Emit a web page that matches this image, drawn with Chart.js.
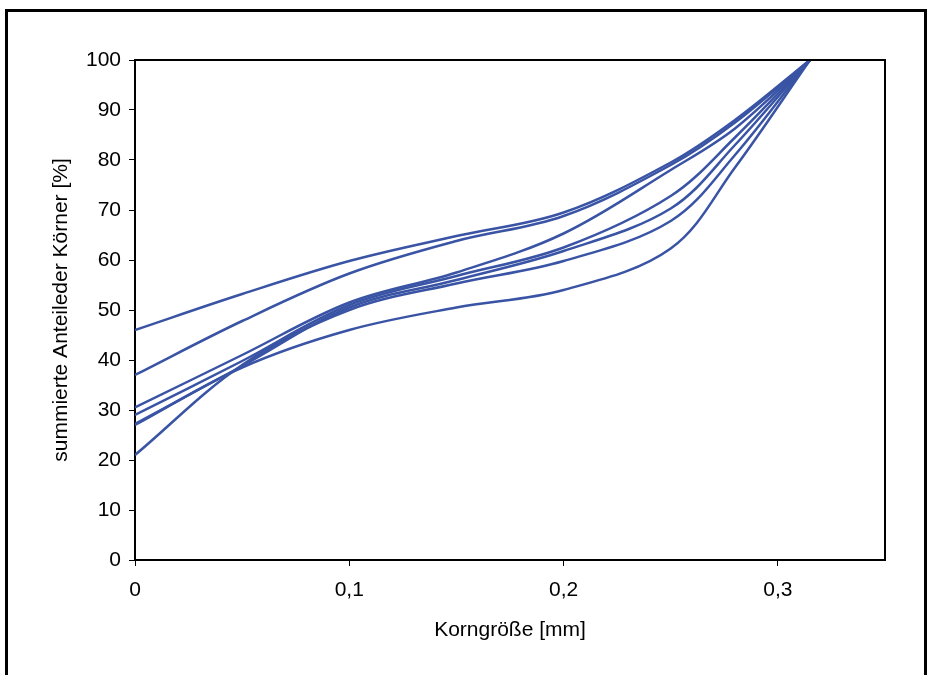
<!DOCTYPE html>
<html>
<head>
<meta charset="utf-8">
<script src="https://cdn.jsdelivr.net/npm/chart.js@4"></script>
<style>
  html, body { margin: 0; padding: 0; background: #fff; }
  #wrap { width: 932px; height: 675px; position: relative; }
</style>
</head>
<body>
<div id="wrap"><canvas id="sieveChart" width="932" height="675"></canvas></div>
<script>
// grain size knots [mm] and cumulative share [%] per sample
const xKnots = [0, 0.05, 0.1, 0.15, 0.2, 0.25, 0.28, 0.315];
const curveA = [46, 53.2, 59.8, 64.8, 69.5, 79.5, 88, 100];
const curveB = [37, 47.8, 57.3, 63.8, 68.8, 79, 87.5, 100];
const curveC = [30.5, 41, 51.5, 57.5, 65.3, 78, 86.3, 100];
const curveD = [29, 39.8, 51, 56.8, 62.5, 72.8, 84.5, 100];
const curveE = [27.2, 38.8, 50.5, 56, 61.8, 70.3, 83, 100];
const curveF = [21, 39, 50, 55.3, 59.8, 67.8, 81, 100];
const curveG = [27, 38.5, 46, 50.5, 54, 62.3, 78.5, 100];

const xTickValues = [0, 0.1, 0.2, 0.3];
const yTickValues = [0, 10, 20, 30, 40, 50, 60, 70, 80, 90, 100];

const lineColor = '#3a54a5';
const fontFamily = '"Liberation Sans", Arial, sans-serif';

function toPoints(ys) {
  return xKnots.map((x, i) => ({ x: x, y: ys[i] }));
}

const allCurves = [curveA, curveB, curveC, curveD, curveE, curveF, curveG];

// black frames: the plot box (top/right) and the outer picture border
const framePlugin = {
  id: 'frames',
  afterDraw(chart) {
    const ctx = chart.ctx;
    const a = chart.chartArea;
    ctx.save();
    ctx.strokeStyle = '#000';
    ctx.lineWidth = 2;
    ctx.beginPath();
    ctx.moveTo(a.left, a.top);
    ctx.lineTo(a.right, a.top);
    ctx.lineTo(a.right, a.bottom);
    ctx.stroke();
    ctx.lineWidth = 3;
    ctx.beginPath();
    ctx.moveTo(6.5, 700);
    ctx.lineTo(6.5, 10.5);
    ctx.lineTo(925.5, 10.5);
    ctx.lineTo(925.5, 700);
    ctx.stroke();
    ctx.restore();
  }
};

new Chart(document.getElementById('sieveChart'), {
  type: 'line',
  data: {
    datasets: allCurves.map(c => ({
      data: toPoints(c),
      borderColor: lineColor,
      borderWidth: 2.5,
      pointRadius: 0,
      fill: false,
      tension: 0.35
    }))
  },
  options: {
    responsive: false,
    animation: false,
    layout: { padding: { left: 40, top: 60, right: 47, bottom: 0 } },
    plugins: { legend: { display: false }, tooltip: { enabled: false } },
    scales: {
      x: {
        type: 'linear',
        min: 0,
        max: 0.35,
        afterBuildTicks: axis => { axis.ticks = xTickValues.map(v => ({ value: v })); },
        afterFit: axis => { axis.height = 115; },
        grid: { drawOnChartArea: false, drawTicks: true, tickLength: 6, color: '#000', lineWidth: 1 },
        border: { display: true, color: '#000', width: 2 },
        ticks: {
          padding: 12,
          color: '#000',
          font: { family: fontFamily, size: 21 },
          callback: v => String(v).replace('.', ',')
        },
        title: {
          display: true,
          text: 'Korngröße [mm]',
          color: '#000',
          font: { family: fontFamily, size: 21 },
          padding: { top: 0, bottom: 32 }
        }
      },
      y: {
        min: 0,
        max: 100,
        afterBuildTicks: axis => { axis.ticks = yTickValues.map(v => ({ value: v })); },
        afterFit: axis => { axis.width = 95; },
        grid: { drawOnChartArea: false, drawTicks: true, tickLength: 6, color: '#000', lineWidth: 1 },
        border: { display: true, color: '#000', width: 2 },
        ticks: {
          padding: 8,
          color: '#000',
          font: { family: fontFamily, size: 21 }
        },
        title: {
          display: true,
          text: 'summierte Anteileder Körner [%]',
          color: '#000',
          font: { family: fontFamily, size: 21 },
          padding: { top: 9, bottom: 0 }
        }
      }
    }
  },
  plugins: [framePlugin]
});
</script>
</body>
</html>
